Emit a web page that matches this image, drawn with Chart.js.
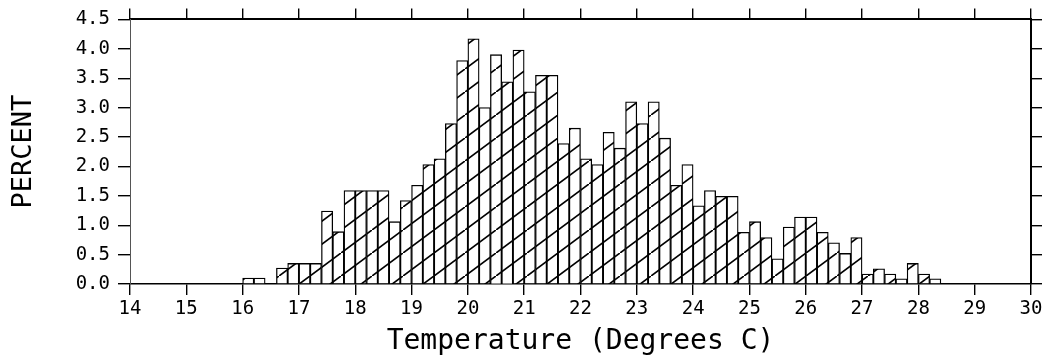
<!DOCTYPE html>
<html>
<head>
<meta charset="utf-8">
<script src="https://cdn.jsdelivr.net/npm/chart.js@4.4.0/dist/chart.umd.min.js"></script>
<style>
  html, body { margin: 0; padding: 0; background: #fff; }
</style>
</head>
<body>
<canvas id="tempHist" width="1048" height="364"></canvas>
<script>
// histogram bins: lower edge of each 0.2 degree bin
const binStart = [
  16.0, 16.2, 16.4, 16.6, 16.8, 17.0, 17.2, 17.4, 17.6, 17.8,
  18.0, 18.2, 18.4, 18.6, 18.8, 19.0, 19.2, 19.4, 19.6, 19.8,
  20.0, 20.2, 20.4, 20.6, 20.8, 21.0, 21.2, 21.4, 21.6, 21.8,
  22.0, 22.2, 22.4, 22.6, 22.8, 23.0, 23.2, 23.4, 23.6, 23.8,
  24.0, 24.2, 24.4, 24.6, 24.8, 25.0, 25.2, 25.4, 25.6, 25.8,
  26.0, 26.2, 26.4, 26.6, 26.8, 27.0, 27.2, 27.4, 27.6, 27.8,
  28.0, 28.2
];
const percent = [
  0.10, 0.10, 0.00, 0.27, 0.35, 0.35, 0.35, 1.24, 0.89, 1.59,
  1.59, 1.59, 1.59, 1.06, 1.42, 1.68, 2.03, 2.13, 2.73, 3.80,
  4.17, 3.00, 3.90, 3.44, 3.98, 3.27, 3.55, 3.55, 2.39, 2.65,
  2.13, 2.03, 2.58, 2.31, 3.10, 2.73, 3.10, 2.48, 1.68, 2.03,
  1.33, 1.59, 1.49, 1.49, 0.88, 1.06, 0.79, 0.43, 0.97, 1.14,
  1.14, 0.88, 0.70, 0.52, 0.79, 0.17, 0.26, 0.17, 0.09, 0.35,
  0.17, 0.09
];
const binWidth = 0.2;
const xMin = 14, xMax = 30, xStep = 1;
const yMin = 0, yMax = 4.5, yStep = 0.5;

const FONT = "'DejaVu Sans Mono', monospace";

// diagonal hatch, anchored to the canvas so lines run across bars
function makeHatch() {
    const c = document.createElement('canvas');
    const w = 31, h = 23;
    c.width = w; c.height = h;
    const g = c.getContext('2d');
    g.fillStyle = '#fff';
    g.fillRect(0, 0, w, h);
    g.strokeStyle = '#000';
    g.lineWidth = 1.7;
    g.beginPath();
    g.moveTo(-2, h + 2 * h / w);
    g.lineTo(w + 2, -2 * h / w);
    g.stroke();
    return g.createPattern(c, 'repeat');
}

const ctx = document.getElementById('tempHist').getContext('2d');
const hatch = makeHatch();

const points = binStart.map((b, i) => ({ x: b + binWidth / 2, y: percent[i] }));

const tickGrid = len => ({
    drawOnChartArea: false,
    drawTicks: true,
    offset: false,
    tickLength: len,
    color: '#000',
    lineWidth: 1.4
});

new Chart(ctx, {
    type: 'bar',
    data: {
        datasets: [{
            data: points,
            backgroundColor: hatch,
            borderColor: '#000',
            borderWidth: 1.3,
            barPercentage: 1,
            categoryPercentage: 1
        }]
    },
    options: {
        responsive: false,
        animation: false,
        devicePixelRatio: 1,
        layout: { padding: 0 },
        plugins: { legend: { display: false }, tooltip: { enabled: false } },
        scales: {
            x: {
                type: 'linear', position: 'bottom', min: xMin, max: xMax,
                offset: false,
                ticks: { stepSize: xStep, color: '#000', font: { family: FONT, size: 19 }, padding: 3, maxRotation: 0 },
                grid: tickGrid(11),
                border: { display: true, color: '#000', width: 1.5 },
                title: { display: true, text: 'Temperature (Degrees C)', color: '#000',
                         font: { family: FONT, size: 28, lineHeight: 1 }, padding: { top: 0, bottom: 8 } },
                afterFit: s => { s.height = 80; }
            },
            xTop: {
                type: 'linear', position: 'top', min: xMin, max: xMax,
                offset: false,
                ticks: { stepSize: xStep, callback: () => '' },
                grid: tickGrid(11),
                border: { display: true, color: '#000', width: 2 },
                afterFit: s => { s.height = 15; }
            },
            y: {
                type: 'linear', position: 'left', min: yMin, max: yMax,
                ticks: { stepSize: yStep, color: '#000', font: { family: FONT, size: 19 }, padding: 8,
                         callback: v => v.toFixed(1) },
                grid: tickGrid(12),
                border: { display: true, color: '#555', width: 1 },
                title: { display: true, text: 'PERCENT', color: '#000',
                         font: { family: FONT, size: 27, lineHeight: 1 }, padding: { top: 10, bottom: 0 } },
                afterFit: s => { s.width = 130; }
            },
            yRight: {
                type: 'linear', position: 'right', min: yMin, max: yMax,
                ticks: { stepSize: yStep, callback: () => '' },
                grid: tickGrid(11),
                border: { display: true, color: '#000', width: 2 },
                afterFit: s => { s.width = 17; }
            }
        }
    }
});
</script>
</body>
</html>
